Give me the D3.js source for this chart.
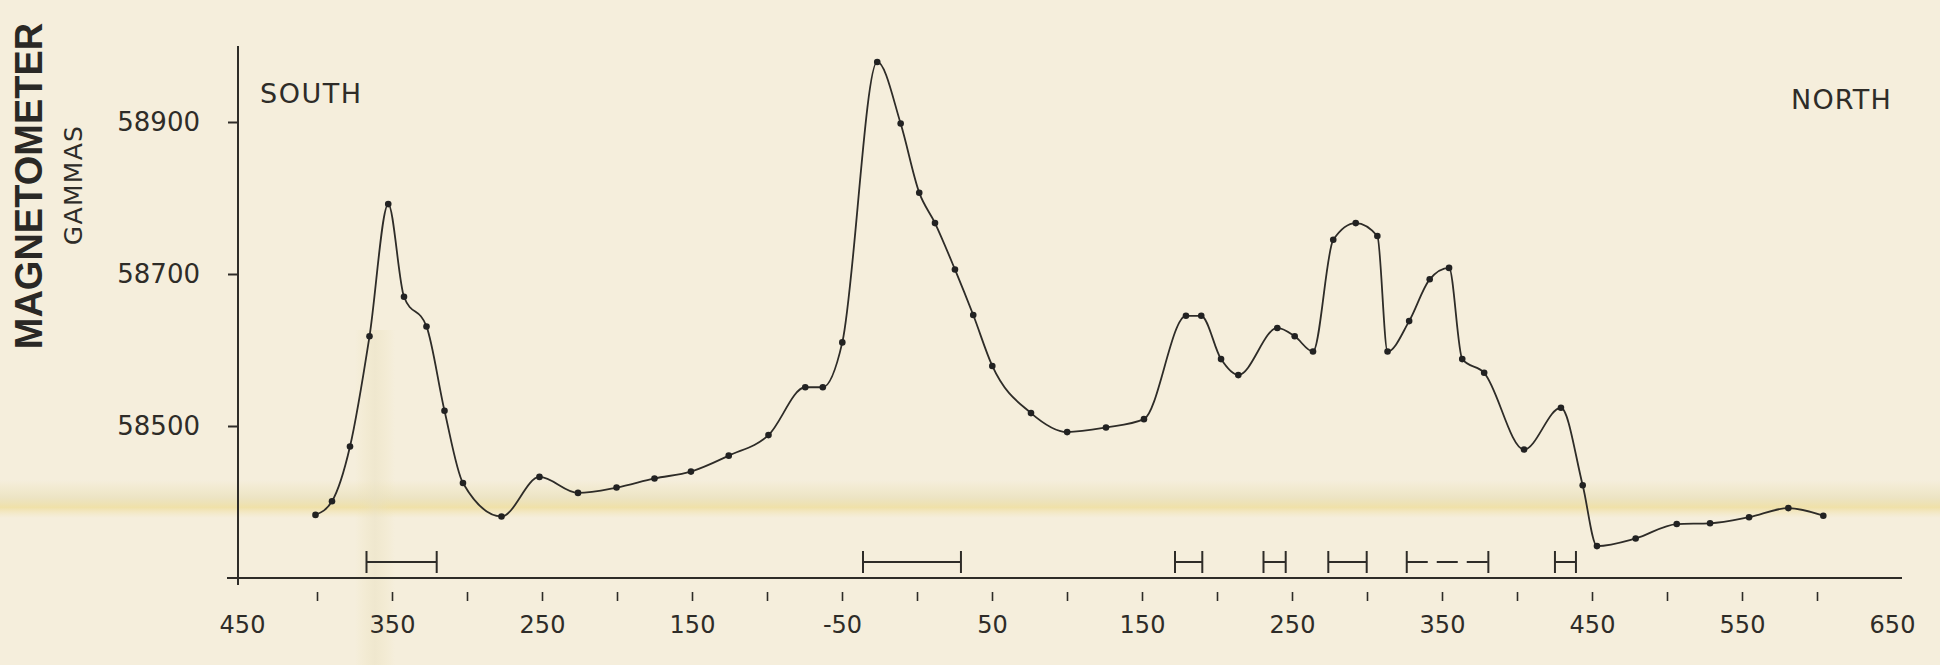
<!DOCTYPE html>
<html>
<head>
<meta charset="utf-8">
<script src="https://cdn.jsdelivr.net/npm/d3@7"></script>
<style>
  body { margin: 0; background: #f5eedc; }
  svg { display: block; }
</style>
</head>
<body>
<script>
// station positions along the traverse (south negative) and readings in gammas
var stations = [-401, -390, -378, -365, -352.5, -342, -327, -315, -302.7, -277,
  -251.7, -226, -200.3, -175, -150.7, -125.5, -99, -74.5, -62.8, -49.8,
  -26.5, -10.9, 1.5, 12, 25.3, 37.5, 50.2, 76, 100.1, 126,
  151.3, 179.3, 189.5, 202.7, 214.2, 240.2, 251.8, 264, 277.5, 292.5,
  306.9, 313.7, 328.1, 341.8, 354.7, 363.5, 378.1, 404.7, 429.3, 443.8,
  453.3, 479.1, 506.5, 528.7, 554.7, 580.9, 604.2];

var gammas = [58383, 58401, 58473, 58618, 58792, 58670, 58631, 58520, 58425, 58381,
  58433, 58412, 58419, 58431, 58440, 58461, 58488, 58551, 58551, 58610,
  58979, 58898, 58807, 58767, 58706, 58646, 58579, 58517, 58492, 58498,
  58509, 58645, 58645, 58588, 58567, 58629, 58618, 58598, 58745, 58767,
  58750, 58598, 58638, 58693, 58708, 58588, 58570, 58469, 58524, 58422,
  58342, 58352, 58371, 58372, 58380, 58392, 58382];

// intervals marked above the axis: start, end, dashed or not
var spanStart = [-367, -36, 172, 231, 274.2, 326.5, 425.3];
var spanEnd = [-320.2, 29.3, 190.2, 245.8, 299.8, 380.9, 439.3];
var spanDashed = [false, false, false, false, false, true, false];

// axis ticks and their printed labels
var xLabelValues = [-450, -350, -250, -150, -50, 50, 150, 250, 350, 450, 550, 650];
var xLabels = ['450', '350', '250', '150', '-50', '50', '150', '250', '350', '450', '550', '650'];
var xMinorTicks = [-400, -350, -300, -250, -200, -150, -100, -50, 0, 50, 100, 150,
  200, 250, 300, 350, 400, 450, 500, 550, 600];
var yTicks = [58500, 58700, 58900];

var width = 1940,
    height = 665;

var ink = '#2e2c28';
var font = 'DejaVu Sans, sans-serif';

var svg = d3.select('body')
  .append('svg')
  .attr('width', width)
  .attr('height', height);

// scales
var x = d3.scaleLinear()
  .domain([-450, 650])
  .range([242, 1892]);

var y = d3.scaleLinear()
  .domain([58300, 59000])
  .range([578, 46]);

var axisY = y(58300);

// paper stains of the scanned sheet
var defs = svg.append('defs');
var band = defs.append('linearGradient')
  .attr('id', 'band')
  .attr('x1', 0).attr('y1', 0).attr('x2', 0).attr('y2', 1);
band.append('stop').attr('offset', '0%').attr('stop-color', '#e6d894').attr('stop-opacity', 0);
band.append('stop').attr('offset', '45%').attr('stop-color', '#ddd29a').attr('stop-opacity', 0.35);
band.append('stop').attr('offset', '72%').attr('stop-color', '#ecd67e').attr('stop-opacity', 0.55);
band.append('stop').attr('offset', '100%').attr('stop-color', '#f0dfa0').attr('stop-opacity', 0);

svg.append('rect')
  .attr('x', 0).attr('y', 480)
  .attr('width', width).attr('height', 38)
  .attr('fill', 'url(#band)');

var vband = defs.append('linearGradient')
  .attr('id', 'vband')
  .attr('x1', 0).attr('y1', 0).attr('x2', 1).attr('y2', 0);
vband.append('stop').attr('offset', '0%').attr('stop-color', '#eee2b0').attr('stop-opacity', 0);
vband.append('stop').attr('offset', '50%').attr('stop-color', '#e8dfbe').attr('stop-opacity', 0.45);
vband.append('stop').attr('offset', '100%').attr('stop-color', '#eee2b0').attr('stop-opacity', 0);

svg.append('rect')
  .attr('x', 355).attr('y', 330)
  .attr('width', 40).attr('height', height - 330)
  .attr('fill', 'url(#vband)');

// vertical axis line and ticks
svg.append('line')
  .attr('x1', 238).attr('x2', 238)
  .attr('y1', y(59000)).attr('y2', axisY + 7)
  .attr('stroke', ink)
  .attr('stroke-width', 2);

var yAxis = svg.append('g')
  .attr('transform', 'translate(238,0)')
  .call(d3.axisLeft(y).tickValues(yTicks).tickSize(10).tickPadding(28).tickFormat(d3.format('d')));
yAxis.select('.domain').remove();
yAxis.selectAll('line').attr('stroke', ink).attr('stroke-width', 2);
yAxis.selectAll('text')
  .attr('fill', ink)
  .style('font-family', font)
  .style('font-size', '26px');

// horizontal axis line, labels and the small detached ticks
svg.append('line')
  .attr('x1', x(-450) - 15).attr('x2', x(650) + 10)
  .attr('y1', axisY).attr('y2', axisY)
  .attr('stroke', ink)
  .attr('stroke-width', 2);

var xAxis = svg.append('g')
  .attr('transform', 'translate(0,' + axisY + ')')
  .call(d3.axisBottom(x).tickValues(xLabelValues).tickSize(0).tickPadding(38)
    .tickFormat(function(d, i) { return xLabels[i]; }));
xAxis.select('.domain').remove();
xAxis.selectAll('text')
  .attr('fill', ink)
  .style('font-family', font)
  .style('font-size', '24px');

var minor = svg.append('g')
  .attr('transform', 'translate(0,' + (axisY + 14) + ')')
  .call(d3.axisBottom(x).tickValues(xMinorTicks).tickSize(9).tickFormat(''));
minor.select('.domain').remove();
minor.selectAll('line').attr('stroke', ink).attr('stroke-width', 1.6);

// interval bars above the axis
var spans = svg.append('g')
  .selectAll('g')
  .data(spanStart)
  .enter()
  .append('g')
  .attr('stroke', ink)
  .attr('stroke-width', 2);

spans.append('line')
  .attr('x1', function(d) { return x(d); })
  .attr('x2', function(d, i) { return x(spanEnd[i]); })
  .attr('y1', axisY - 16)
  .attr('y2', axisY - 16)
  .attr('stroke-dasharray', function(d, i) { return spanDashed[i] ? '21,9' : null; });

spans.append('line')
  .attr('x1', function(d) { return x(d); })
  .attr('x2', function(d) { return x(d); })
  .attr('y1', axisY - 27)
  .attr('y2', axisY - 5);

spans.append('line')
  .attr('x1', function(d, i) { return x(spanEnd[i]); })
  .attr('x2', function(d, i) { return x(spanEnd[i]); })
  .attr('y1', axisY - 27)
  .attr('y2', axisY - 5);

// the profile
var points = stations.map(function(d, i) {
  return { s: d, g: gammas[i] };
});

var line = d3.line()
  .x(function(d) { return x(d.s); })
  .y(function(d) { return y(d.g); })
  .curve(d3.curveMonotoneX);

svg.append('path')
  .datum(points)
  .attr('d', line)
  .attr('fill', 'none')
  .attr('stroke', ink)
  .attr('stroke-width', 1.8);

svg.append('g')
  .selectAll('circle')
  .data(points)
  .enter()
  .append('circle')
  .attr('cx', function(d) { return x(d.s); })
  .attr('cy', function(d) { return y(d.g); })
  .attr('r', 3.3)
  .attr('fill', '#222');

// labels
svg.append('text')
  .attr('x', 260)
  .attr('y', 103)
  .attr('fill', ink)
  .style('font-family', font)
  .style('font-size', '27px')
  .style('letter-spacing', '1.5px')
  .text('SOUTH');

svg.append('text')
  .attr('x', 1791)
  .attr('y', 109)
  .attr('fill', ink)
  .style('font-family', font)
  .style('font-size', '27px')
  .style('letter-spacing', '1.2px')
  .text('NORTH');

svg.append('text')
  .attr('transform', 'translate(42,186) rotate(-90)')
  .attr('text-anchor', 'middle')
  .attr('fill', '#2a2825')
  .style('font-family', 'Liberation Sans, Arial, sans-serif')
  .style('font-weight', 'bold')
  .style('font-size', '38px')
  .text('MAGNETOMETER');

svg.append('text')
  .attr('transform', 'translate(82,185) rotate(-90)')
  .attr('text-anchor', 'middle')
  .attr('fill', ink)
  .style('font-family', font)
  .style('font-size', '25px')
  .style('letter-spacing', '1.3px')
  .text('GAMMAS');
</script>
</body>
</html>
